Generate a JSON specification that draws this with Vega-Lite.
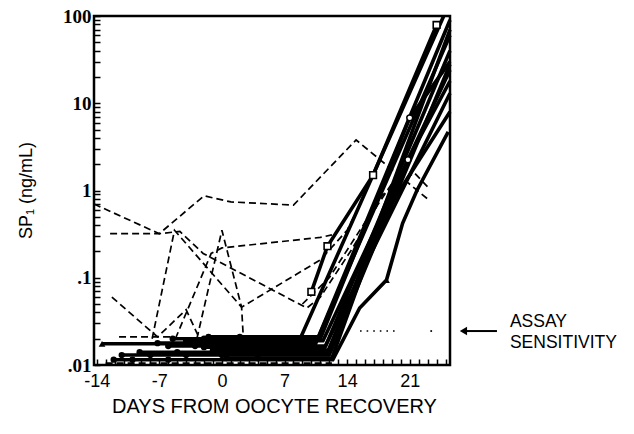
{
  "$schema": "https://vega.github.io/schema/vega-lite/v6.json",
  "width": 356,
  "height": 349,
  "autosize": {"type": "none"},
  "padding": {"left": 94, "top": 16, "right": 184, "bottom": 69},
  "background": "white",
  "config": {"view": {"stroke": "black", "strokeWidth": 2.5}, "font": "Liberation Sans"},
  "data": {"values": [
    {"s":"D1","g":"d","d":-14.3,"v":0.70},{"s":"D1","g":"d","d":-7,"v":0.32},{"s":"D1","g":"d","d":-2,"v":0.87},{"s":"D1","g":"d","d":1,"v":0.74},{"s":"D1","g":"d","d":8,"v":0.68},{"s":"D1","g":"d","d":15,"v":3.8},{"s":"D1","g":"d","d":23,"v":0.8},
    {"s":"D2","g":"d","d":-12.5,"v":0.32},{"s":"D2","g":"d","d":-7,"v":0.32},{"s":"D2","g":"d","d":-4.7,"v":0.34},{"s":"D2","g":"d","d":-2.1,"v":0.19},{"s":"D2","g":"d","d":9.5,"v":0.045},{"s":"D2","g":"d","d":11,"v":0.06},{"s":"D2","g":"d","d":14.5,"v":0.21},{"s":"D2","g":"d","d":17.4,"v":0.68},{"s":"D2","g":"d","d":19,"v":1.2},
    {"s":"D3","g":"d","d":-7.8,"v":0.02},{"s":"D3","g":"d","d":-5.3,"v":0.35},{"s":"D3","g":"d","d":2.2,"v":0.046},{"s":"D3","g":"d","d":11,"v":0.16},{"s":"D3","g":"d","d":14,"v":0.35},{"s":"D3","g":"d","d":16,"v":0.9},
    {"s":"D4","g":"d","d":-12.3,"v":0.06},{"s":"D4","g":"d","d":-7.2,"v":0.021},{"s":"D4","g":"d","d":-4,"v":0.043},{"s":"D4","g":"d","d":-2.5,"v":0.02},
    {"s":"D5","g":"d","d":-5.2,"v":0.02},{"s":"D5","g":"d","d":-1.2,"v":0.19},{"s":"D5","g":"d","d":0,"v":0.22},{"s":"D5","g":"d","d":11,"v":0.29},{"s":"D5","g":"d","d":12.3,"v":0.31},
    {"s":"D6","g":"d","d":-2.8,"v":0.02},{"s":"D6","g":"d","d":0,"v":0.35},{"s":"D6","g":"d","d":2.2,"v":0.046},{"s":"D6","g":"d","d":2.4,"v":0.02},
    {"s":"D7","g":"d","d":-11.5,"v":0.021},{"s":"D7","g":"d","d":-5.5,"v":0.021},
    {"s":"D8","g":"d","d":-13,"v":0.0105},{"s":"D8","g":"d","d":12.3,"v":0.0105},
    {"s":"D9","g":"d","d":9,"v":0.05},{"s":"D9","g":"d","d":12,"v":0.1},{"s":"D9","g":"d","d":18,"v":0.9},{"s":"D9","g":"d","d":21.5,"v":1.6},{"s":"D9","g":"d","d":23,"v":1.1},
    {"s":"S1","g":"s","d":-13.4,"v":0.0175,"m":"tri"},{"s":"S1","g":"s","d":-7,"v":0.0175},{"s":"S1","g":"s","d":0,"v":0.0175},{"s":"S1","g":"s","d":8.5,"v":0.0175},{"s":"S1","g":"s","d":24.8,"v":100},
    {"s":"S2","g":"s","d":10,"v":0.069,"m":"sq"},{"s":"S2","g":"s","d":11.8,"v":0.23,"m":"sq"},{"s":"S2","g":"s","d":16.9,"v":1.5,"m":"sq"},{"s":"S2","g":"s","d":24,"v":79,"m":"sq"},
    {"s":"S3","g":"s","d":-12.1,"v":0.0115,"m":"fc"},{"s":"S3","g":"s","d":-10,"v":0.0115,"m":"fc"},{"s":"S3","g":"s","d":-6,"v":0.0115,"m":"fc"},{"s":"S3","g":"s","d":0,"v":0.0115},{"s":"S3","g":"s","d":6,"v":0.0115},{"s":"S3","g":"s","d":12.4,"v":0.0115},{"s":"S3","g":"s","d":15.4,"v":0.045},{"s":"S3","g":"s","d":18.4,"v":0.094,"m":"tri"},{"s":"S3","g":"s","d":20.2,"v":0.42},{"s":"S3","g":"s","d":21.8,"v":1.0},{"s":"S3","g":"s","d":25.3,"v":4.7},
    {"s":"S4","g":"s","d":-11.2,"v":0.013,"m":"fc"},{"s":"S4","g":"s","d":-8,"v":0.013,"m":"fc"},{"s":"S4","g":"s","d":-4,"v":0.013,"m":"fc"},{"s":"S4","g":"s","d":0,"v":0.013,"m":"fc"},{"s":"S4","g":"s","d":5,"v":0.013},{"s":"S4","g":"s","d":12,"v":0.013},{"s":"S4","g":"s","d":25.5,"v":28},
    {"s":"S5","g":"s","d":-9.2,"v":0.014,"m":"fc"},{"s":"S5","g":"s","d":-5,"v":0.014,"m":"fc"},{"s":"S5","g":"s","d":-1,"v":0.014,"m":"fc"},{"s":"S5","g":"s","d":4,"v":0.014},{"s":"S5","g":"s","d":11.8,"v":0.014},{"s":"S5","g":"s","d":20.8,"v":2.25,"m":"oc"},{"s":"S5","g":"s","d":25.5,"v":18},
    {"s":"S6","g":"s","d":-7.2,"v":0.0178,"m":"fc"},{"s":"S6","g":"s","d":-3,"v":0.0178,"m":"fc"},{"s":"S6","g":"s","d":3,"v":0.0178},{"s":"S6","g":"s","d":10.5,"v":0.0178},{"s":"S6","g":"s","d":25.5,"v":90},
    {"s":"S7","g":"s","d":-5.5,"v":0.02,"m":"fc"},{"s":"S7","g":"s","d":-2,"v":0.02,"m":"fc"},{"s":"S7","g":"s","d":2,"v":0.02,"m":"fc"},{"s":"S7","g":"s","d":6,"v":0.02},{"s":"S7","g":"s","d":11,"v":0.02},{"s":"S7","g":"s","d":21,"v":6.8,"m":"oc"},{"s":"S7","g":"s","d":25.5,"v":30},
    {"s":"S8","g":"s","d":-4,"v":0.019,"m":"fc"},{"s":"S8","g":"s","d":0,"v":0.019,"m":"fc"},{"s":"S8","g":"s","d":4,"v":0.019},{"s":"S8","g":"s","d":11.3,"v":0.019},{"s":"S8","g":"s","d":25.5,"v":24},
    {"s":"S9","g":"s","d":-2,"v":0.016,"m":"fc"},{"s":"S9","g":"s","d":1,"v":0.016,"m":"fc"},{"s":"S9","g":"s","d":5,"v":0.016},{"s":"S9","g":"s","d":11.5,"v":0.016},{"s":"S9","g":"s","d":25.5,"v":13},
    {"s":"S10","g":"s","d":-1,"v":0.0148,"m":"fc"},{"s":"S10","g":"s","d":3,"v":0.0148,"m":"fc"},{"s":"S10","g":"s","d":7,"v":0.0148},{"s":"S10","g":"s","d":12.2,"v":0.0148},{"s":"S10","g":"s","d":25.5,"v":70},
    {"s":"S11","g":"s","d":0.5,"v":0.012,"m":"fc"},{"s":"S11","g":"s","d":4,"v":0.012,"m":"fc"},{"s":"S11","g":"s","d":8,"v":0.012},{"s":"S11","g":"s","d":12.3,"v":0.012},{"s":"S11","g":"s","d":18,"v":0.5},{"s":"S11","g":"s","d":25.5,"v":8},
    {"s":"S12","g":"s","d":-6,"v":0.0165,"m":"fc"},{"s":"S12","g":"s","d":-3,"v":0.0165,"m":"fc"},{"s":"S12","g":"s","d":4,"v":0.0165},{"s":"S12","g":"s","d":11.6,"v":0.0165},{"s":"S12","g":"s","d":25.5,"v":40},
    {"s":"S13","g":"s","d":-1.5,"v":0.021,"m":"fc"},{"s":"S13","g":"s","d":2,"v":0.021,"m":"fc"},{"s":"S13","g":"s","d":6,"v":0.021},{"s":"S13","g":"s","d":10.8,"v":0.021},{"s":"S13","g":"s","d":25.5,"v":60},
    {"s":"A1","g":"dot","d":15.44,"v":0.0245},{"s":"A1","g":"dot","d":19.7,"v":0.0245},
    {"s":"A2","g":"dotpt","d":23.4,"v":0.0245},
    {"s":"A3","g":"arr","d":27.3,"v":0.0245},{"s":"A3","g":"arr","d":30.75,"v":0.0245},
    {"s":"A4","g":"head","d":27.0,"v":0.0245},
    {"s":"T1","g":"txt","d":32.2,"v":0.0311,"label":"ASSAY"},
    {"s":"T2","g":"txt","d":32.2,"v":0.01786,"label":"SENSITIVITY"}
  ]},
  "encoding": {
    "x": {"field": "d", "type": "quantitative",
      "scale": {"domain": [-14.3, 25.5], "nice": false, "zero": false},
      "axis": {"title": "DAYS FROM OOCYTE RECOVERY",
        "values": [-14,-13,-12,-11,-10,-9,-8,-7,-6,-5,-4,-3,-2,-1,0,1,2,3,4,5,6,7,8,9,10,11,12,13,14,15,16,17,18,19,20,21,22,23,24,25],
        "labelExpr": "datum.value % 7 == 0 ? (datum.value < 0 ? '-' + abs(datum.value) : '' + datum.value) : ''",
        "tickSize": -6, "tickWidth": 1.5, "tickColor": "black", "domain": false, "grid": false,
        "labelPadding": 13, "labelFont": "Liberation Sans", "labelFontSize": 18, "labelColor": "black",
        "labelOverlap": false, "labelFlush": false,
        "titleFont": "Liberation Sans", "titleFontSize": 20, "titleFontWeight": "normal", "titleColor": "black",
        "titleX": 180, "titleY": 41, "titleAlign": "center", "titleBaseline": "middle"}},
    "y": {"field": "v", "type": "quantitative",
      "scale": {"type": "log", "domain": [0.01, 100], "nice": false},
      "axis": {"title": "SP₁ (ng/mL)",
        "values": [0.01,0.02,0.03,0.04,0.05,0.06,0.07,0.08,0.09,0.1,0.2,0.3,0.4,0.5,0.6,0.7,0.8,0.9,1,2,3,4,5,6,7,8,9,10,20,30,40,50,60,70,80,90,100],
        "labelExpr": "datum.value == 100 ? '100' : datum.value == 10 ? '10' : datum.value == 1 ? '1' : datum.value == 0.1 ? '.1' : datum.value == 0.01 ? '.01' : ''",
        "tickSize": -6, "tickWidth": 1.5, "tickColor": "black", "domain": false, "grid": false,
        "labelPadding": 9, "labelFont": "Liberation Serif", "labelFontWeight": "bold", "labelFontSize": 19, "labelColor": "black",
        "labelOverlap": false, "labelFlush": false, "labelBaseline": "middle",
        "titleFont": "Liberation Sans", "titleFontSize": 18, "titleFontWeight": "normal", "titleColor": "black",
        "titleX": -68, "titleY": 174, "titleAlign": "center", "titleBaseline": "middle", "titleAngle": -90}}
  },
  "layer": [
    {"transform": [{"filter": "datum.g == 'd'"}],
     "mark": {"type": "line", "color": "black", "strokeWidth": 1.7, "strokeDash": [7, 4]},
     "encoding": {"detail": {"field": "s"}}},
    {"transform": [{"filter": "datum.g == 's'"}],
     "mark": {"type": "line", "color": "black", "strokeWidth": 3.6},
     "encoding": {"detail": {"field": "s"}}},
    {"transform": [{"filter": "datum.m == 'fc'"}],
     "mark": {"type": "point", "shape": "circle", "filled": true, "color": "black", "size": 40, "opacity": 1},
     "encoding": {}},
    {"transform": [{"filter": "datum.m == 'tri'"}],
     "mark": {"type": "point", "shape": "triangle-up", "filled": true, "color": "black", "size": 45, "opacity": 1},
     "encoding": {}},
    {"transform": [{"filter": "datum.m == 'sq'"}],
     "mark": {"type": "point", "shape": "square", "filled": true, "fill": "white", "stroke": "black", "strokeWidth": 1.6, "size": 45, "opacity": 1},
     "encoding": {}},
    {"transform": [{"filter": "datum.m == 'oc'"}],
     "mark": {"type": "point", "shape": "circle", "filled": true, "fill": "white", "stroke": "black", "strokeWidth": 1.5, "size": 35, "opacity": 1},
     "encoding": {}},
    {"transform": [{"filter": "datum.g == 'dot'"}],
     "mark": {"type": "line", "color": "black", "strokeWidth": 1.6, "strokeDash": [1.6, 5]},
     "encoding": {"detail": {"field": "s"}}},
    {"transform": [{"filter": "datum.g == 'dotpt'"}],
     "mark": {"type": "point", "shape": "square", "filled": true, "color": "black", "size": 3, "opacity": 1},
     "encoding": {}},
    {"transform": [{"filter": "datum.g == 'arr'"}],
     "mark": {"type": "line", "color": "black", "strokeWidth": 2},
     "encoding": {"detail": {"field": "s"}}},
    {"transform": [{"filter": "datum.g == 'head'"}],
     "mark": {"type": "point", "shape": "triangle-left", "filled": true, "color": "black", "size": 70, "opacity": 1},
     "encoding": {}},
    {"transform": [{"filter": "datum.g == 'txt'"}],
     "mark": {"type": "text", "align": "left", "baseline": "middle", "font": "Liberation Sans", "fontSize": 17.5, "color": "black"},
     "encoding": {"text": {"field": "label"}}}
  ]
}
